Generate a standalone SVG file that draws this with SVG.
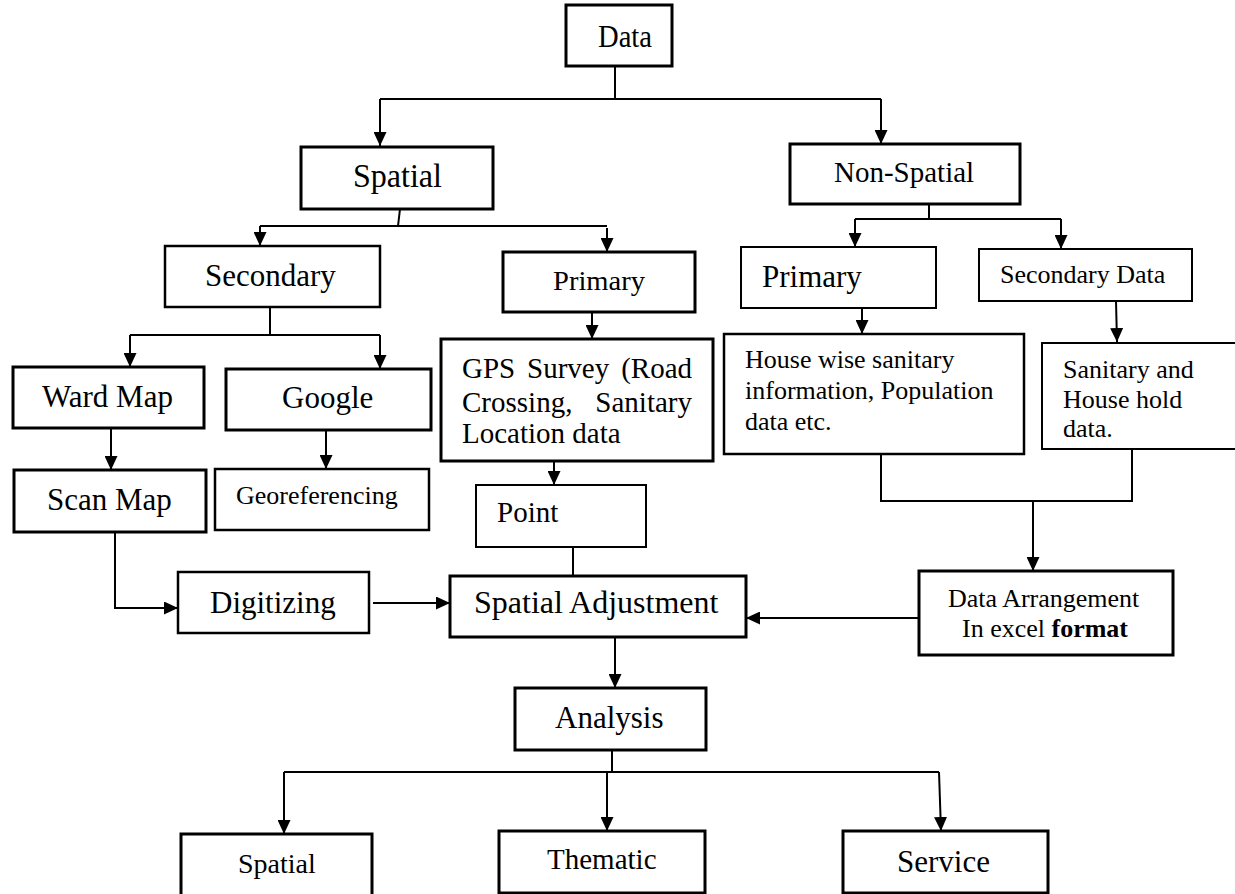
<svg xmlns="http://www.w3.org/2000/svg" width="1235" height="894" viewBox="0 0 1235 894">
<style>
.b{fill:#fff;stroke:#000;stroke-width:2.5}
.t{stroke-width:3}
.n{stroke-width:2}
text{font-family:"Liberation Serif","Times New Roman",serif;fill:#000}
.c{fill:none;stroke:#000;stroke-width:2}
.a{marker-end:url(#ah)}
</style>
<defs>
<marker id="ah" markerUnits="userSpaceOnUse" markerWidth="14" markerHeight="13" refX="14" refY="6.5" orient="auto">
<path d="M0,0 L14,6.5 L0,13 z" fill="#000"/>
</marker>
</defs>
<rect width="1235" height="894" fill="#fff"/>
<g id="connectors">
<path class="c" d="M615,66 V99 M380,99 H881"/>
<path class="c a" d="M380,99 V146"/>
<path class="c a" d="M881,99 V144"/>
<path class="c" d="M400,209 L398,226 M260,226 H607"/>
<path class="c a" d="M260,226 V246"/>
<path class="c a" d="M607,228 V252"/>
<path class="c" d="M929,205 V219 M855,219 H1061"/>
<path class="c a" d="M855,219 V247"/>
<path class="c a" d="M1061,219 V249"/>
<path class="c" d="M270,307 V335 M130,335 H380"/>
<path class="c a" d="M130,335 V367"/>
<path class="c a" d="M380,335 V369"/>
<path class="c a" d="M592,312 V339"/>
<path class="c a" d="M862,308 V334"/>
<path class="c a" d="M1116,301 L1117,342"/>
<path class="c a" d="M111,428 V470"/>
<path class="c a" d="M326,430 V469"/>
<path class="c a" d="M554,461 V485"/>
<path class="c" d="M573,547 V576"/>
<path class="c a" d="M115,532 V608 H178"/>
<path class="c a" d="M373,603 H450"/>
<path class="c" d="M881,454 V501 H1132 V449"/>
<path class="c a" d="M1033,501 V571"/>
<path class="c a" d="M919,618 H746"/>
<path class="c a" d="M615,637 V688"/>
<path class="c" d="M612,750 V772 M284,772 H939"/>
<path class="c a" d="M284,772 V834"/>
<path class="c a" d="M607,772 V831"/>
<path class="c a" d="M939,772 L941,831"/>
</g>
<g id="data"><rect class="b t" x="566" y="5" width="106" height="61"/><text x="598" y="47" font-size="31" textLength="54" lengthAdjust="spacingAndGlyphs">Data</text></g>
<g id="spatial"><rect class="b t" x="301" y="147" width="192" height="62"/><text x="353" y="187" font-size="33" textLength="89" lengthAdjust="spacingAndGlyphs">Spatial</text></g>
<g id="nonspatial"><rect class="b t" x="790" y="144" width="230" height="60"/><text x="834" y="182" font-size="29">Non-Spatial</text></g>
<g id="secondary"><rect class="b" x="165" y="246" width="215" height="61"/><text x="205" y="286" font-size="31">Secondary</text></g>
<g id="primary-s"><rect class="b t" x="503" y="252" width="192" height="60"/><text x="553" y="290" font-size="27" textLength="92" lengthAdjust="spacingAndGlyphs">Primary</text></g>
<g id="primary-ns"><rect class="b n" x="741" y="247" width="195" height="61"/><text x="762" y="287" font-size="31">Primary</text></g>
<g id="secondary-data"><rect class="b n" x="979" y="249" width="213" height="52"/><text x="1000" y="283" font-size="26">Secondary Data</text></g>
<g id="ward-map"><rect class="b t" x="13" y="367" width="191" height="61"/><text x="42" y="407" font-size="31">Ward Map</text></g>
<g id="google"><rect class="b t" x="226" y="369" width="205" height="61"/><text x="282" y="408" font-size="31">Google</text></g>
<g id="gps"><rect class="b t" x="441" y="339" width="272" height="122"/>
<text font-size="29"><tspan x="462" y="378">GPS</tspan><tspan x="527" y="378">Survey</tspan><tspan x="692" y="378" text-anchor="end">(Road</tspan><tspan x="462" y="412">Crossing,</tspan><tspan x="692" y="412" text-anchor="end">Sanitary</tspan><tspan x="462" y="443">Location data</tspan></text></g>
<g id="house-wise"><rect class="b" x="724" y="334" width="300" height="120"/>
<text font-size="26"><tspan x="745" y="368">House wise sanitary</tspan><tspan x="745" y="399">information, Population</tspan><tspan x="745" y="430">data etc.</tspan></text></g>
<g id="sanitary"><rect class="b n" x="1042" y="343" width="200" height="106"/>
<text font-size="26"><tspan x="1063" y="378">Sanitary and</tspan><tspan x="1063" y="408">House hold</tspan><tspan x="1063" y="437">data.</tspan></text></g>
<g id="scan-map"><rect class="b t" x="14" y="470" width="192" height="62"/><text x="47" y="510" font-size="31">Scan Map</text></g>
<g id="georeferencing"><rect class="b" x="215" y="469" width="214" height="61"/><text x="236" y="504" font-size="26">Georeferencing</text></g>
<g id="point"><rect class="b n" x="476" y="485" width="170" height="62"/><text x="497" y="522" font-size="29">Point</text></g>
<g id="digitizing"><rect class="b" x="178" y="572" width="191" height="61"/><text x="210" y="613" font-size="31">Digitizing</text></g>
<g id="spatial-adjustment"><rect class="b t" x="450" y="576" width="296" height="61"/><text x="474" y="613" font-size="32">Spatial Adjustment</text></g>
<g id="data-arrangement"><rect class="b t" x="919" y="571" width="254" height="84"/>
<text font-size="26"><tspan x="948" y="607">Data Arrangement</tspan><tspan x="962" y="637">In excel <tspan font-weight="bold">format</tspan></tspan></text></g>
<g id="analysis"><rect class="b t" x="515" y="688" width="191" height="62"/><text x="555" y="728" font-size="31">Analysis</text></g>
<g id="spatial-out"><rect class="b t" x="181" y="834" width="191" height="70"/><text x="238" y="873" font-size="28">Spatial</text></g>
<g id="thematic"><rect class="b t" x="499" y="831" width="206" height="62"/><text x="547" y="869" font-size="29">Thematic</text></g>
<g id="service"><rect class="b t" x="843" y="831" width="205" height="62"/><text x="897" y="872" font-size="31">Service</text></g>
</svg>
